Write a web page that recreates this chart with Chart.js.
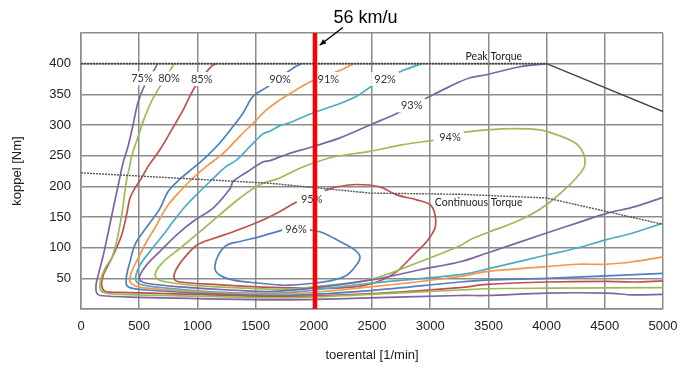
<!DOCTYPE html>
<html lang="nl">
<head>
<meta charset="UTF-8">
<title>Rendementskaart motor</title>
<script src="https://cdn.jsdelivr.net/npm/chart.js"></script>
<style>
  body { margin: 0; background: #fff; }
  #wrap { width: 696px; height: 369px; }
</style>
</head>
<body>
<div id="wrap"><canvas id="effChart" width="696" height="369"></canvas></div>
<script>
  // efficiency contours as [rpm, Nm] pairs
  const eff75 = [[656,400],[627,389],[550,366],[490,337],[447,300],[404,265],[361,238],[321,203],[278,165],[235,126],[192,88],[149,56],[129,39],[135,26],[163,22],[507,19],[994,17],[1709,15],[2483,18],[3256,22],[3485,22],[4000,26],[4515,26],[4742,23],[5000,24]];
  const eff80 = [[799,400],[765,389],[679,363],[607,339],[550,314],[492,282],[435,249],[421,235],[392,210],[350,154],[306,110],[263,83],[206,66],[172,50],[163,34],[192,27],[335,24],[994,21],[1709,18],[2483,24],[3256,31],[3485,33],[4000,34],[5000,35]];
  const eff85 = [[1165,400],[1122,396],[979,362],[879,325],[779,292],[679,260],[578,233],[521,214],[464,197],[421,181],[392,154],[350,121],[292,94],[235,72],[192,56],[178,39],[206,29],[335,27],[994,24],[1709,20],[2483,25],[3256,35],[3485,40],[4000,44],[4515,45],[4742,44],[5000,46]];
  const eff90 = [[1896,400],[1824,393],[1609,363],[1480,347],[1394,320],[1308,298],[1194,271],[1080,249],[965,230],[851,212],[750,192],[679,164],[621,148],[535,126],[464,105],[421,77],[392,55],[392,39],[435,34],[564,31],[994,26],[1709,22],[2483,30],[3256,44],[3485,47],[4000,50],[4515,54],[5000,58]];
  const eff91 = [[2339,400],[2240,390],[1990,372],[1853,358],[1710,341],[1595,325],[1480,303],[1366,282],[1223,254],[1080,233],[965,214],[851,192],[750,170],[679,148],[650,137],[564,110],[492,83],[435,61],[421,45],[464,38],[564,34],[994,28],[1709,24],[2483,36],[3256,53],[3485,61],[4000,69],[4258,73],[4515,73],[4742,77],[5000,85]];
  const eff92 = [[2927,400],[2755,388],[2497,363],[2368,347],[2197,333],[1996,320],[1796,304],[1710,299],[1624,290],[1566,286],[1452,265],[1338,243],[1237,231],[1137,213],[1022,192],[908,170],[793,143],[707,121],[593,94],[507,72],[472,55],[478,44],[535,39],[736,34],[1137,28],[1709,26],[2483,42],[3256,56],[3485,65],[4000,88],[4258,99],[4515,113],[4742,124],[5000,140]];
  const eff93 = [[4000,400],[3771,395],[3485,382],[3342,377],[3170,363],[2970,344],[2726,320],[2483,300],[2225,279],[1996,265],[1767,252],[1624,242],[1566,240],[1423,223],[1308,208],[1280,196],[1137,165],[965,143],[822,121],[679,94],[564,72],[507,55],[507,47],[564,42],[851,36],[1280,31],[1709,29],[2483,47],[2913,64],[3256,77],[3485,91],[4000,124],[4258,140],[4515,156],[4742,166],[5000,182]];
  const eff94 = [[3284,288],[3485,292],[3714,294],[3943,292],[4087,284],[4244,271],[4316,254],[4330,236],[4301,224],[4201,203],[4000,170],[3771,145],[3485,124],[3342,113],[3256,103],[2913,77],[2483,48],[1996,36],[1709,32],[1423,34],[994,38],[736,44],[650,50],[644,61],[707,77],[851,99],[1022,126],[1194,154],[1366,181],[1538,203],[1700,213],[1853,227],[1996,238],[2197,249],[2483,257],[2769,268],[3027,275]];
  const eff95 = [[1853,175],[1709,159],[1538,143],[1308,126],[1137,115],[994,104],[908,88],[822,66],[799,50],[851,44],[1137,40],[1423,37],[1709,35],[1996,34],[2197,34],[2425,38],[2569,46],[2712,61],[2855,88],[2970,110],[3041,132],[3041,154],[3000,170],[2884,178],[2712,186],[2569,199],[2368,203],[2197,199],[2096,193]];
  const eff96 = [[1738,129],[1624,123],[1538,118],[1366,110],[1252,104],[1180,88],[1151,66],[1194,55],[1308,47],[1538,42],[1709,39],[1796,39],[1996,42],[2168,47],[2283,55],[2368,72],[2397,85],[2354,96],[2225,110],[2082,124],[1967,129]];

  const contourNames = ['75%','80%','85%','90%','91%','92%','93%','94%','95%','96%'];
  const labelRpm = [524, 756, 1037, 1710, 2125, 2612, 2841, 3170, 1982, 1847];
  const labelNm  = [376, 376, 375, 375, 375, 375, 332, 280, 179, 129];

  const peakTorque = [[0,400],[4000,400]];
  const peakTorqueHigh = [[4000,400],[5000,322]];
  const contTorque = [[0,222],[1624,205],[2483,189],[3256,187],[4000,181],[4515,159],[5000,138]];
  const speedRpm = 2010; // 56 km/u

  const rpmTicks = [0,500,1000,1500,2000,2500,3000,3500,4000,4500,5000];
  const nmTicks = [50,100,150,200,250,300,350,400];

  const purple = '#8064A2', green = '#9BBB59', red = '#C0504D',
        blue = '#4F81BD', orange = '#F79646', teal = '#4BACC6';

  const contours = [eff75, eff80, eff85, eff90, eff91, eff92, eff93, eff94, eff95, eff96];
  const contourColors = [purple, green, red, blue, orange, teal, purple, green, red, blue];

  const pts = arr => arr.map(([x, y]) => ({ x, y }));

  const datasets = [
    { label: '56 km/u', data: pts([[speedRpm,0],[speedRpm,450]]), borderColor: '#ff0000', borderWidth: 4.5, tension: 0 },
    { label: 'Peak Torque', data: pts(peakTorque), borderColor: '#444', borderWidth: 1.6, borderDash: [2, 1], tension: 0 },
    { label: 'Peak Torque 2', data: pts(peakTorqueHigh), borderColor: '#444', borderWidth: 1.4, tension: 0 },
    { label: 'Continuous Torque', data: pts(contTorque), borderColor: '#555', borderWidth: 1.4, borderDash: [2, 1], tension: 0 }
  ];
  contours.forEach((c, i) => {
    datasets.push({ label: contourNames[i], data: pts(c), borderColor: contourColors[i], borderWidth: 1.7, tension: 0.35 });
  });

  function drawLabels(chart) {
    const { ctx, scales: { x, y } } = chart;
    ctx.save();
    ctx.font = '11px Lato';
    ctx.textAlign = 'center';
    ctx.textBaseline = 'middle';
    contourNames.forEach((t, i) => {
      const px = x.getPixelForValue(labelRpm[i]);
      const py = y.getPixelForValue(labelNm[i]);
      const w = ctx.measureText(t).width + 6;
      ctx.fillStyle = '#fff';
      ctx.fillRect(px - w / 2, py - 7, w, 14);
      ctx.fillStyle = '#333';
      ctx.fillText(t, px, py);
    });
    ctx.font = '10.5px Lato';
    ctx.fillStyle = '#222';
    ctx.fillText('Peak Torque', x.getPixelForValue(3547), y.getPixelForValue(411));
    ctx.fillText('Continuous Torque', x.getPixelForValue(3416), y.getPixelForValue(174));
    ctx.restore();
  }

  const overlay = {
    id: 'overlay',
    beforeDatasetDraw(chart, args) {
      if (args.index === 0) drawLabels(chart);
    },
    afterDraw(chart) {
      const { ctx, scales: { x, y } } = chart;
      ctx.save();
      ctx.font = '18px "Liberation Sans"';
      ctx.fillStyle = '#000';
      ctx.textBaseline = 'alphabetic';
      ctx.fillText('56 km/u', x.getPixelForValue(2170), y.getPixelForValue(456) - 6);
      // arrow pointing at the speed line
      const x0 = x.getPixelForValue(2250), y0 = y.getPixelForValue(459);
      const x1 = x.getPixelForValue(2050), y1 = y.getPixelForValue(430);
      ctx.strokeStyle = '#000';
      ctx.lineWidth = 1.3;
      ctx.beginPath(); ctx.moveTo(x0, y0); ctx.lineTo(x1, y1); ctx.stroke();
      const a = Math.atan2(y1 - y0, x1 - x0);
      ctx.beginPath();
      ctx.moveTo(x1, y1);
      ctx.lineTo(x1 - 7 * Math.cos(a - 0.4), y1 - 7 * Math.sin(a - 0.4));
      ctx.lineTo(x1 - 7 * Math.cos(a + 0.4), y1 - 7 * Math.sin(a + 0.4));
      ctx.closePath();
      ctx.fillStyle = '#000';
      ctx.fill();
      ctx.restore();
    }
  };

  const ctx = document.getElementById('effChart').getContext('2d');
  new Chart(ctx, {
    type: 'scatter',
    data: { datasets },
    options: {
      responsive: false,
      animation: false,
      showLine: true,
      elements: { point: { radius: 0 } },
      layout: { padding: { top: 33, right: 33, left: 0, bottom: 0 } },
      plugins: { legend: { display: false }, tooltip: { enabled: false } },
      scales: {
        x: {
          type: 'linear', min: 0, max: 5000,
          afterBuildTicks: s => { s.ticks = rpmTicks.map(v => ({ value: v })); },
          afterFit: s => { s.height = 60; },
          grid: { color: '#8c8c8c', lineWidth: 1.5, drawTicks: false },
          border: { color: '#8c8c8c', width: 1.5 },
          ticks: { padding: 10, color: '#222', font: { family: '"Liberation Sans"', size: 13 }, maxRotation: 0,
                   callback: v => String(v) },
          title: { display: true, text: 'toerental [1/min]', color: '#222', font: { family: '"Liberation Sans"', size: 13 }, padding: { top: 0, bottom: 6 } }
        },
        y: {
          type: 'linear', min: 0, max: 450,
          afterBuildTicks: s => { s.ticks = [0, ...nmTicks, 450].map(v => ({ value: v })); },
          afterFit: s => { s.width = 81; },
          grid: { color: '#8c8c8c', lineWidth: 1.5, drawTicks: false },
          border: { color: '#8c8c8c', width: 1.5 },
          ticks: { padding: 10, color: '#222', font: { family: '"Liberation Sans"', size: 13 },
                   callback: v => nmTicks.includes(v) ? String(v) : '' },
          title: { display: true, text: 'koppel [Nm]', color: '#222', font: { family: '"Liberation Sans"', size: 13 }, padding: { top: 10, bottom: 0 } }
        }
      }
    },
    plugins: [overlay]
  });
</script>
</body>
</html>
